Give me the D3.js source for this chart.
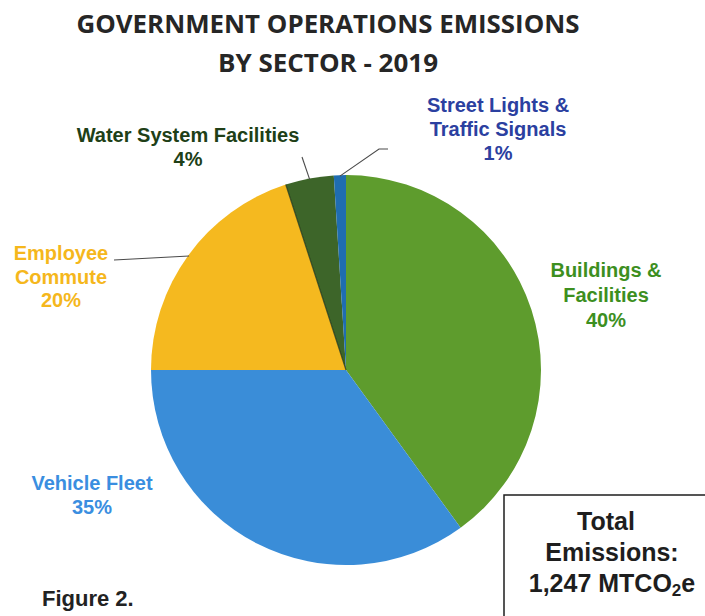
<!DOCTYPE html>
<html>
<head>
<meta charset="utf-8">
<script src="https://cdn.jsdelivr.net/npm/d3@7"></script>
<style>
  html, body { margin: 0; padding: 0; background: #fff; }
  svg { display: block; }
</style>
</head>
<body>
<svg id="chart" width="705" height="616"></svg>
<script>
// Sector shares of government operations emissions, 2019 (percent)
const sectors = ["Buildings & Facilities", "Vehicle Fleet", "Employee Commute", "Water System Facilities", "Street Lights & Traffic Signals"];
const shares = [40, 35, 20, 4, 1];
const sliceColors = ["#5e9c2d", "#3a8dd8", "#f5b91f", "#3d6529", "#1f6db0"];
const labelColors = ["#3d8f1f", "#3a8ee0", "#f5b71c", "#203f17", "#2b40a0"];
const labelLines = [
  ["Buildings &", "Facilities", "40%"],
  ["Vehicle Fleet", "35%"],
  ["Employee", "Commute", "20%"],
  ["Water System Facilities", "4%"],
  ["Street Lights &", "Traffic Signals", "1%"]
];
const titleLines = ["GOVERNMENT OPERATIONS EMISSIONS", "BY SECTOR - 2019"];
const totalEmissions = "1,247";

const svg = d3.select("#chart");
const W = 705, H = 616;
const cx = 346, cy = 370, R = 195;

const data = sectors.map((s, i) => ({ sector: s, value: shares[i], i }));

// Title
svg.append("g").selectAll("text").data(titleLines).join("text")
  .attr("x", 328)
  .attr("y", (d, i) => 33 + i * 39)
  .attr("text-anchor", "middle")
  .attr("font-family", "'Open Sans', 'DejaVu Sans', sans-serif")
  .attr("font-weight", 700)
  .attr("font-size", 25)
  .attr("fill", "#262626")
  .attr("textLength", (d, i) => i === 0 ? 503 : 220)
  .attr("lengthAdjust", "spacingAndGlyphs")
  .text(d => d);

// Pie, clockwise from 12 o'clock in data order
const pie = d3.pie().value(d => d.value).sort(null);
const arcs = pie(data);
const arc = d3.arc().innerRadius(0).outerRadius(R);

const g = svg.append("g").attr("transform", `translate(${cx},${cy})`);
g.selectAll("path").data(arcs).join("path")
  .attr("d", arc)
  .attr("fill", d => sliceColors[d.data.i]);

// Slice boundary shading between employee commute and water system
g.append("path")
  .attr("d", d3.line()([[0, 0], [R * Math.sin(arcs[3].startAngle), -R * Math.cos(arcs[3].startAngle)]]))
  .attr("stroke", "#1d2f12").attr("stroke-width", 1.2).attr("opacity", 0.7);

// Leader lines from slice edge to label
const edgePoint = (a, r) => [cx + r * Math.sin((a.startAngle + a.endAngle) / 2), cy - r * Math.cos((a.startAngle + a.endAngle) / 2)];
const leaders = [
  { idx: 2, pts: [[114, 260]] },
  { idx: 3, pts: [[302, 157]] },
  { idx: 4, pts: [[379, 149], [388, 149]] }
];
leaders.forEach(l => {
  const start = edgePoint(arcs[l.idx], R - 1);
  svg.append("path")
    .attr("d", d3.line()([start, ...l.pts]))
    .attr("fill", "none")
    .attr("stroke", "#4a4a4a")
    .attr("stroke-width", 1.1);
});

// Slice labels
const labelPos = [
  { x: 606, y: 277, lh: 25 },
  { x: 92, y: 490, lh: 24 },
  { x: 61, y: 260, lh: 23.5 },
  { x: 188, y: 142, lh: 23.5 },
  { x: 498, y: 112, lh: 24 }
];
data.forEach((d, i) => {
  const p = labelPos[i];
  svg.append("text")
    .attr("text-anchor", "middle")
    .attr("font-family", "'Liberation Sans', Arial, sans-serif")
    .attr("font-weight", 700)
    .attr("font-size", 20)
    .attr("fill", labelColors[i])
    .selectAll("tspan").data(labelLines[i]).join("tspan")
    .attr("x", p.x)
    .attr("y", (t, k) => p.y + k * p.lh)
    .text(t => t);
});

// Total emissions box
svg.append("rect")
  .attr("x", 504).attr("y", 495)
  .attr("width", 220).attr("height", 140)
  .attr("fill", "#fff")
  .attr("stroke", "#1e1e1e")
  .attr("stroke-width", 1.5);

const totalText = svg.append("text")
  .attr("text-anchor", "middle")
  .attr("font-family", "'Liberation Sans', Arial, sans-serif")
  .attr("font-weight", 700)
  .attr("font-size", 25)
  .attr("fill", "#1e1e1e");
totalText.append("tspan").attr("x", 606).attr("y", 530).text("Total");
totalText.append("tspan").attr("x", 612).attr("y", 561).text("Emissions:");
const l3 = svg.append("text")
  .attr("x", 612).attr("y", 592)
  .attr("text-anchor", "middle")
  .attr("font-family", "'Liberation Sans', Arial, sans-serif")
  .attr("font-weight", 700)
  .attr("font-size", 25)
  .attr("fill", "#1e1e1e");
l3.append("tspan").text(totalEmissions + " MTCO");
l3.append("tspan").attr("font-size", 17).attr("dy", 4).text("2");
l3.append("tspan").attr("dy", -4).text("e");

// Figure caption
svg.append("text")
  .attr("x", 42).attr("y", 606)
  .attr("font-family", "'Liberation Sans', Arial, sans-serif")
  .attr("font-weight", 700)
  .attr("font-size", 22)
  .attr("fill", "#222")
  .text("Figure 2.");
</script>
</body>
</html>
